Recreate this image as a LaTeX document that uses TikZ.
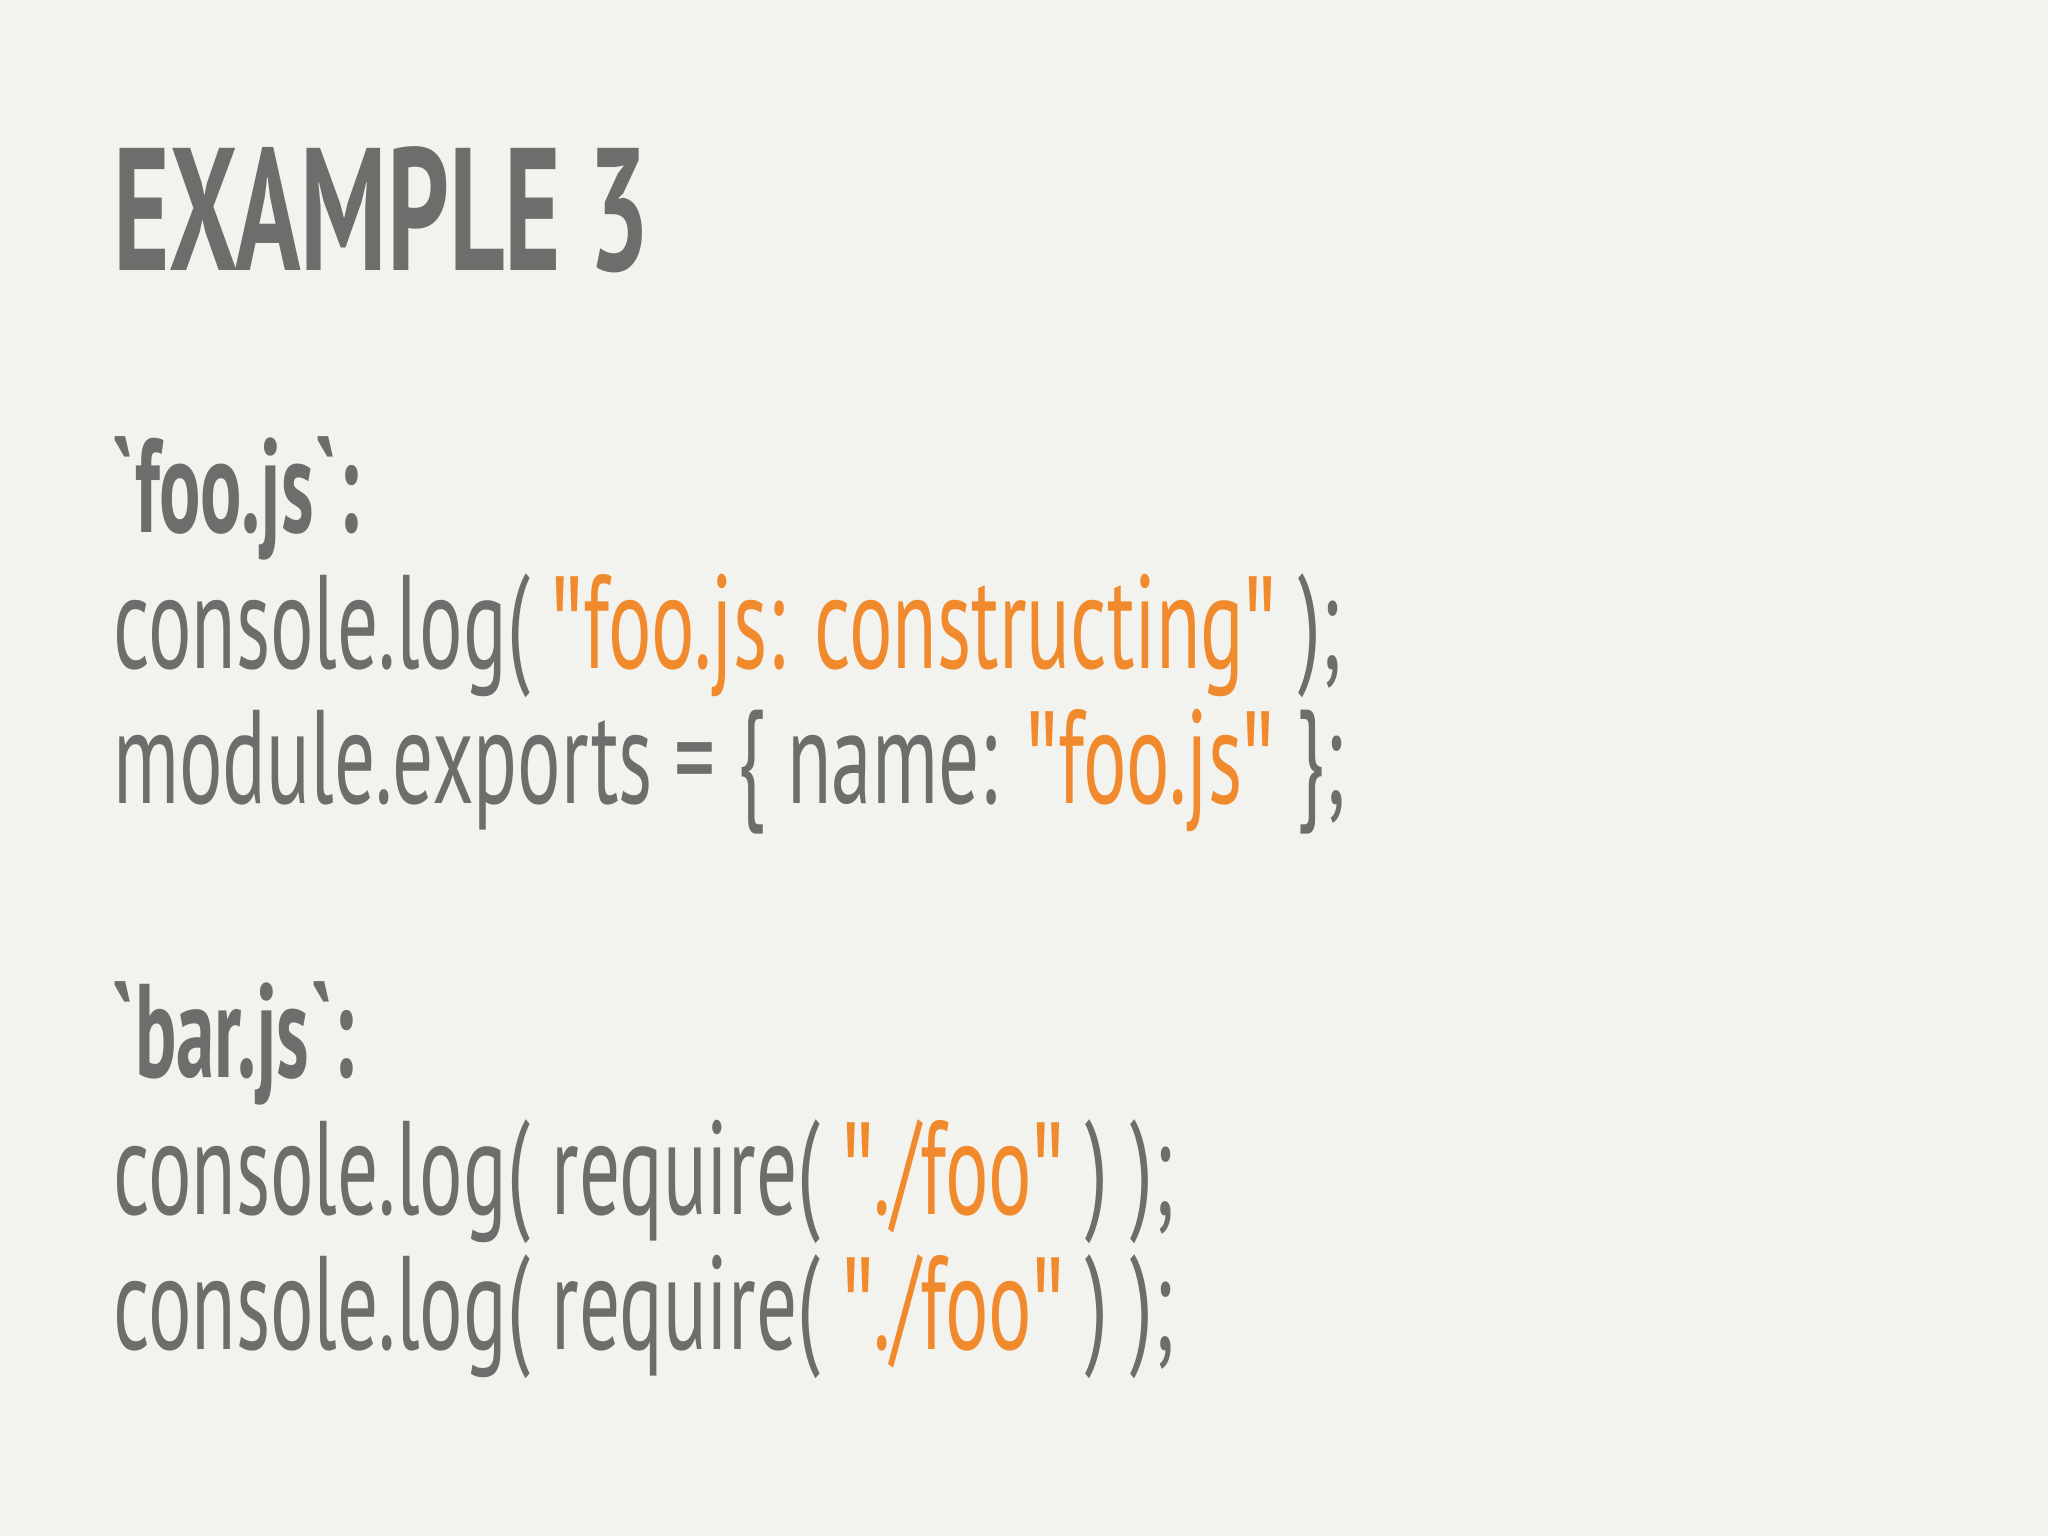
\documentclass[tikz,border=0pt]{standalone}
\usepackage{fontspec}
\setmainfont{PT Sans}[FakeStretch=0.61,Ligatures=ResetAll]
\newfontfamily\titlefont{PT Sans Bold}[FakeStretch=0.62,Ligatures=ResetAll]
\newfontfamily\headfont{PT Sans Bold}[FakeStretch=0.58,Ligatures=ResetAll]
\newfontfamily\qfont{Fira Sans}[FakeStretch=0.6,Ligatures=ResetAll]
\definecolor{bg}{HTML}{F2F2EE}
\definecolor{gr}{HTML}{6B6E6A}
\definecolor{orn}{HTML}{F08A2C}
\newcommand{\q}{{\qfont\symbol{34}}}
\newcommand{\bt}{\symbol{96}}
\begin{document}
\begin{tikzpicture}[x=0.01cm,y=-0.01cm]
\tikzset{code/.style={anchor=base west,inner sep=0pt,text=gr,font=\fontsize{29pt}{30pt}\selectfont},
 head/.style={code,font=\headfont\fontsize{29pt}{30pt}\selectfont}}
\fill[bg] (0,0) rectangle (1568,1176);
\node[anchor=base west,inner sep=0pt,text=gr,font=\titlefont\fontsize{38pt}{40pt}\selectfont] (title) at (86,207) {EXAMPLE 3};
\node[head] (h1) at (84,408) {\bt foo.js\bt :};
\node[code] (l1) at (86,512) {console.log( \textcolor{orn}{\q foo.js: constructing\q} );};
\node[code] (l2) at (86,615) {module.exports = \{ name: \textcolor{orn}{\q foo.js\q} \};};
\node[head] (h2) at (84,825) {\bt bar.js\bt :};
\node[code] (l3) at (86,930) {console.log( require( \textcolor{orn}{\q./foo\q} ) );};
\node[code] (l4) at (86,1033) {console.log( require( \textcolor{orn}{\q./foo\q} ) );};
\end{tikzpicture}
\end{document}
